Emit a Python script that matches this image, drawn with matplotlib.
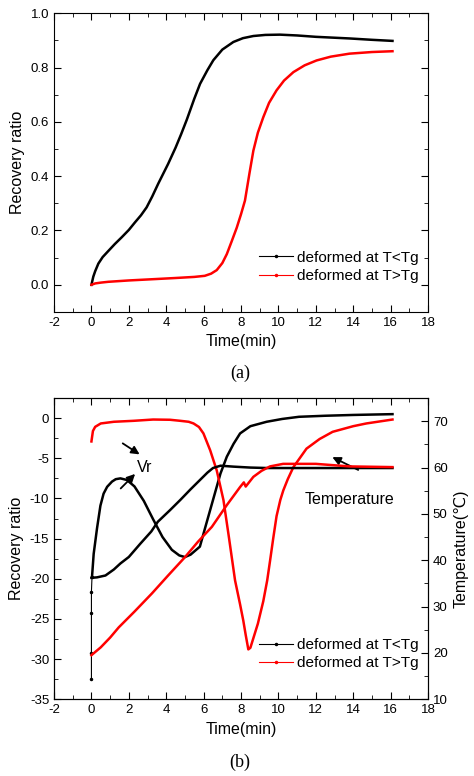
import matplotlib
matplotlib.use('Agg')
import matplotlib.pyplot as plt
from matplotlib.lines import Line2D
from matplotlib.ticker import MultipleLocator, FormatStrFormatter

plt.rcParams['font.family'] = ['Liberation Sans', 'DejaVu Sans']
plt.rcParams['axes.unicode_minus'] = False

# (a) recovery ratio vs time
ta_low = [0, 0.1, 0.2, 0.37, 0.6, 0.91, 1.25, 1.62, 2.0, 2.33, 2.65, 2.95, 3.25, 3.57, 4.1, 4.5, 4.8, 5.1, 5.5, 5.81, 6.2, 6.52, 7.0, 7.59, 8.1, 8.66, 9.3, 10.08, 11.0, 12.0, 13.8, 15.0, 16.1]
ra_low = [0, 0.03, 0.05, 0.078, 0.102, 0.125, 0.15, 0.175, 0.202, 0.23, 0.256, 0.285, 0.325, 0.372, 0.445, 0.505, 0.555, 0.608, 0.685, 0.74, 0.79, 0.827, 0.866, 0.894, 0.908, 0.916, 0.92, 0.921, 0.918, 0.913, 0.907, 0.902, 0.898]
ta_high = [0, 0.2, 0.5, 0.9, 2.0, 3.4, 4.5, 5.5, 6.06, 6.4, 6.7, 7.0, 7.24, 7.5, 7.77, 8.0, 8.21, 8.45, 8.66, 8.9, 9.19, 9.5, 9.9, 10.3, 10.8, 11.4, 12.04, 12.8, 13.8, 15.0, 16.1]
ra_high = [0, 0.005, 0.008, 0.011, 0.016, 0.021, 0.025, 0.029, 0.033, 0.041, 0.054, 0.08, 0.113, 0.16, 0.21, 0.26, 0.31, 0.41, 0.494, 0.56, 0.617, 0.67, 0.716, 0.752, 0.783, 0.808, 0.826, 0.84, 0.851, 0.857, 0.86]

# (b) recovery rate Vr (left axis) and temperature (right axis)
tb_vr_low = [0, 0, 0, 0, 0.03, 0.12, 0.3, 0.48, 0.65, 0.84, 1.1, 1.3, 1.55, 1.9, 2.3, 2.8, 3.3, 3.8, 4.3, 4.7, 5.0, 5.3, 5.8, 6.1, 6.5, 6.9, 7.24, 7.6, 7.95, 8.5, 9.37, 10.2, 11.1, 12.5, 14.0, 16.1]
vr_low = [-32.5, -29.3, -24.3, -21.6, -19.8, -16.9, -13.7, -10.9, -9.4, -8.55, -7.9, -7.6, -7.5, -7.7, -8.5, -10.3, -12.6, -14.8, -16.4, -17.1, -17.3, -17.0, -16.0, -13.5, -10.2, -6.9, -4.8, -3.2, -1.9, -1.0, -0.45, -0.1, 0.17, 0.3, 0.4, 0.5]
tb_vr_high = [0, 0.08, 0.2, 0.5, 1.2, 2.26, 3.3, 4.2, 4.75, 5.2, 5.46, 5.75, 5.99, 6.35, 6.7, 7.06, 7.35, 7.68, 7.95, 8.12, 8.25, 8.39, 8.5, 8.66, 8.9, 9.19, 9.4, 9.55, 9.72, 9.9, 10.1, 10.26, 10.5, 10.8, 11.5, 12.2, 12.9, 14.0, 14.7, 16.1]
vr_high = [-2.9, -1.6, -1.08, -0.66, -0.45, -0.33, -0.17, -0.2, -0.33, -0.45, -0.66, -1.1, -1.9, -4.0, -6.5, -10.2, -14.8, -20.2, -23.2, -25.2, -27.0, -28.8, -28.6, -27.4, -25.6, -22.8, -20.2, -17.8, -15.0, -12.2, -10.2, -9.0, -7.6, -6.1, -3.8, -2.6, -1.7, -1.0, -0.66, -0.17]
tb_temp_low = [0, 0.3, 0.75, 1.2, 1.55, 2.0, 2.6, 3.2, 3.55, 4.2, 4.75, 5.3, 5.8, 6.2, 6.5, 6.9, 7.6, 8.5, 9.4, 11.0, 13.0, 16.1]
temp_low = [36.2, 36.3, 36.7, 38.0, 39.3, 40.7, 43.5, 46.2, 48.3, 50.8, 53.0, 55.3, 57.3, 58.9, 59.9, 60.4, 60.2, 60.0, 59.9, 59.9, 59.9, 59.9]
tb_temp_high = [0, 0.5, 1.0, 1.46, 2.3, 3.24, 4.1, 5.0, 5.7, 6.44, 7.24, 7.95, 8.15, 8.25, 8.66, 9.1, 9.55, 10.25, 11.0, 12.0, 13.8, 16.1]
temp_high = [19.5, 21.2, 23.3, 25.5, 28.9, 32.85, 36.7, 40.65, 44.0, 47.2, 51.9, 55.8, 56.8, 55.9, 58.0, 59.3, 60.25, 60.8, 60.8, 60.8, 60.25, 60.1]

fig = plt.figure(figsize=(4.74, 7.76), dpi=100)
ax1 = fig.add_axes([0.114, 0.598, 0.789, 0.385])
ax2 = fig.add_axes([0.114, 0.099, 0.789, 0.388])
ax3 = ax2.twinx()

def style(ax, top=True, right=True):
    ax.tick_params(which='both', direction='in', top=top, right=right, labelsize=9.5)
    ax.tick_params(which='major', length=5)
    ax.tick_params(which='minor', length=3)
    ax.xaxis.set_major_locator(MultipleLocator(2))
    ax.xaxis.set_minor_locator(MultipleLocator(1))

# (a)
ax1.plot(ta_low, ra_low, color='black', lw=1.8)
ax1.plot(ta_high, ra_high, color='red', lw=1.8)
ax1.set_xlim(-2, 18)
ax1.set_ylim(-0.1, 1.0)
style(ax1)
ax1.yaxis.set_major_locator(MultipleLocator(0.2))
ax1.yaxis.set_minor_locator(MultipleLocator(0.1))
ax1.yaxis.set_major_formatter(FormatStrFormatter('%.1f'))
ax1.set_xlabel('Time(min)', fontsize=11.5)
ax1.set_ylabel('Recovery ratio', fontsize=11.5)

handles = [Line2D([0, 1, 2], [0, 0, 0], color='black', lw=0.8, marker='.', markersize=3, markevery=[1]),
           Line2D([0, 1, 2], [0, 0, 0], color='red', lw=0.8, marker='.', markersize=3, markevery=[1])]
labels = ['deformed at T<Tg', 'deformed at T>Tg']
leg_kw = dict(loc='lower right', bbox_to_anchor=(1.0, 0.065), frameon=False, fontsize=11,
              handlelength=2.2, handletextpad=0.3, labelspacing=0.3, borderaxespad=0.2)
ax1.legend(handles, labels, **leg_kw)

# (b)
ax2.plot(tb_vr_low[:5], vr_low[:5], color='black', lw=0.8, marker='.', markersize=3)
ax2.plot(tb_vr_low[4:], vr_low[4:], color='black', lw=1.8)
ax2.plot(tb_vr_high, vr_high, color='red', lw=1.8)
ax3.plot(tb_temp_low, temp_low, color='black', lw=1.8)
ax3.plot(tb_temp_high, temp_high, color='red', lw=1.8)
ax2.set_xlim(-2, 18)
ax2.set_ylim(-35, 2.5)
ax3.set_ylim(10, 75)
style(ax2, right=False)
ax2.yaxis.set_major_locator(MultipleLocator(5))
ax2.yaxis.set_minor_locator(MultipleLocator(2.5))
ax3.tick_params(which='both', direction='in', labelsize=9.5)
ax3.tick_params(which='major', length=5)
ax3.tick_params(which='minor', length=3)
ax3.yaxis.set_major_locator(MultipleLocator(10))
ax3.yaxis.set_minor_locator(MultipleLocator(5))
ax2.set_xlabel('Time(min)', fontsize=11.5)
ax2.set_ylabel('Recovery ratio', fontsize=11.5)
ax3.set_ylabel('Temperature(℃)', fontsize=11.5)

arrow = dict(arrowstyle='-|>', color='black', lw=1.3, mutation_scale=12)
ax2.annotate('', xy=(2.7, -4.7), xytext=(1.55, -2.95), arrowprops=arrow)
ax2.annotate('', xy=(2.44, -6.7), xytext=(1.46, -9.0), arrowprops=arrow)
ax2.text(2.85, -6.1, 'Vr', fontsize=11.5, ha='center', va='center')
ax2.annotate('', xy=(12.75, -4.7), xytext=(14.4, -6.6), arrowprops=arrow)
ax2.text(13.8, -10.1, 'Temperature', fontsize=11.5, ha='center', va='center')
ax2.legend(handles, labels, **leg_kw)

fig.text(0.506, 0.519, '(a)', fontsize=13, family='Liberation Serif', ha='center', va='center')
fig.text(0.506, 0.017, '(b)', fontsize=13, family='Liberation Serif', ha='center', va='center')

fig.savefig('out.png', dpi=100)
